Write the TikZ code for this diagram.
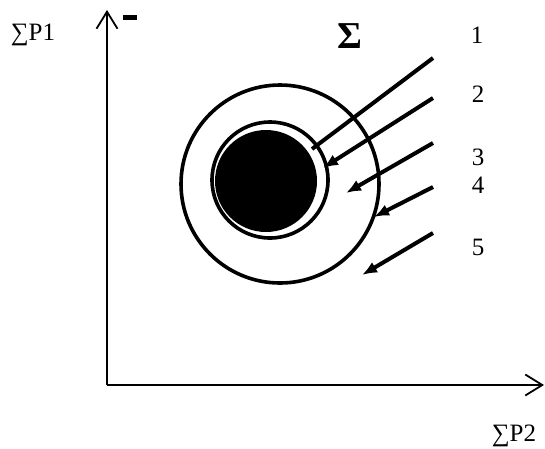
\documentclass[tikz,border=0pt]{standalone}
\usepackage{fontspec}
\setmainfont{Liberation Serif}
\usetikzlibrary{arrows.meta}
\begin{document}
\begin{tikzpicture}[x=1pt,y=-1pt,
  lbl/.style={inner sep=0pt,font=\fontsize{25}{30}\selectfont},
  axis/.style={line width=1.8pt,-{Straight Barb[length=17pt,width=21pt,line width=1.8pt]}},
  ring/.style={line width=3.6pt},
  ray/.style={line width=4pt},
  rayhead/.style={ray,-{Latex[length=15pt,width=12pt]}}]
\useasboundingbox (0,0) rectangle (545,448);
% axes
\coordinate (O) at (107,385);
\coordinate (ytop) at (107,10);
\coordinate (xend) at (544,385);
\draw[axis] (O) -- (ytop);
\draw[axis] (O) -- (xend);
\fill (123,14.5) rectangle (137,19.5);
% circles
\node[circle,draw,ring,minimum size=198pt,inner sep=0pt] (outer) at (280,184) {};
\node[circle,draw,ring,minimum size=116pt,inner sep=0pt] (mid) at (270,180) {};
\node[circle,fill=black,minimum size=102pt,inner sep=0pt] (core) at (266,181) {};
% sigma
\node[inner sep=0pt,font=\fontsize{38}{38}\selectfont\bfseries] (sig) at (350,36) {Σ};
% rays
\coordinate (s1) at (433,58);  \coordinate (e1) at (312,149);
\coordinate (s2) at (433,98);  \coordinate (e2) at (323,168);
\coordinate (s3) at (433,143); \coordinate (e3) at (346,193);
\coordinate (s4) at (433,187); \coordinate (e4) at (374,217);
\coordinate (s5) at (433,233); \coordinate (e5) at (362,275);
\draw[ray] (s1) -- (e1);
\draw[rayhead] (s2) -- (e2);
\draw[rayhead] (s3) -- (e3);
\draw[rayhead] (s4) -- (e4);
\draw[rayhead] (s5) -- (e5);
% labels
\node[lbl] (n1) at (477,35) {1};
\node[lbl] (n2) at (478,94) {2};
\node[lbl] (n3) at (478,157) {3};
\node[lbl] (n4) at (478,185) {4};
\node[lbl] (n5) at (478,247) {5};
\node[lbl] (p1) at (33,35) {∑P1};
\node[lbl] (p2) at (514,436) {∑P2};
\end{tikzpicture}
\end{document}
